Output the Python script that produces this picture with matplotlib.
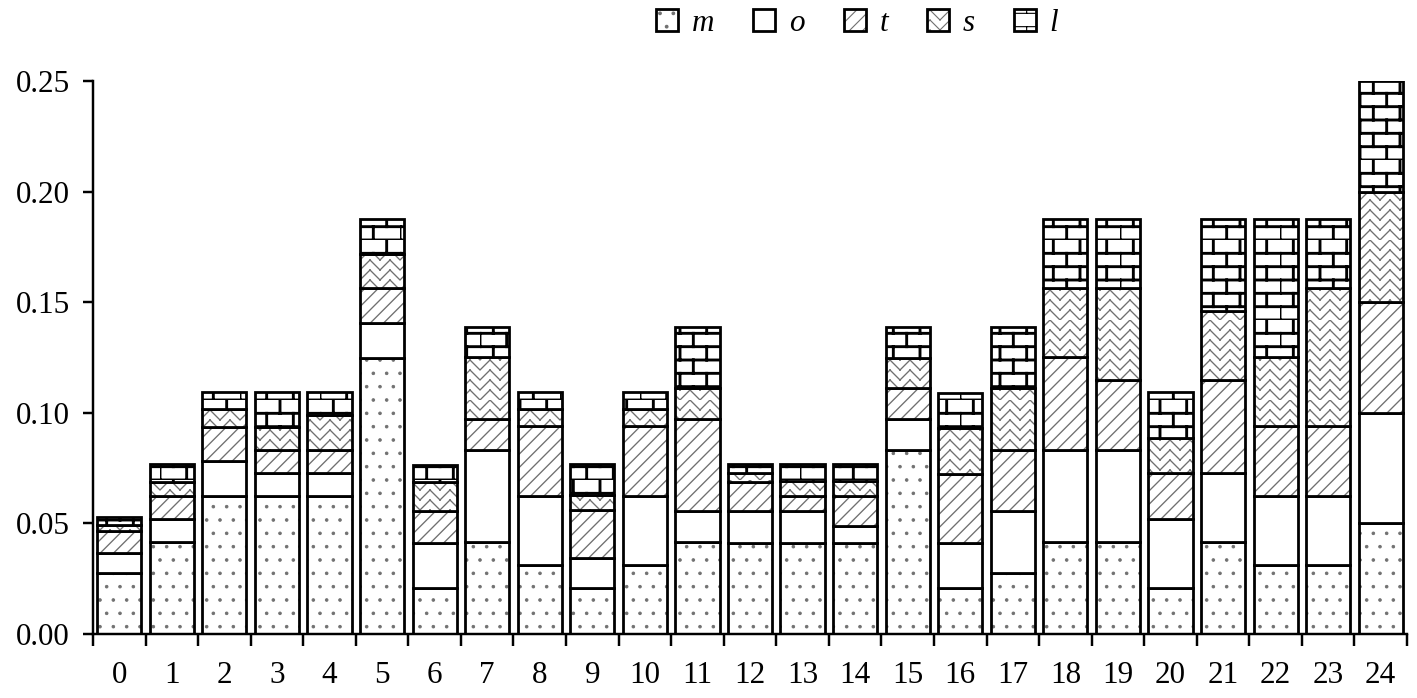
import warnings
import numpy as np
import matplotlib
matplotlib.use("Agg")
import matplotlib.pyplot as plt
from matplotlib import hatch as mhatch
from matplotlib.patches import Patch
from matplotlib.legend_handler import HandlerTuple

warnings.filterwarnings("ignore")

# stacked shares per group
groups = [str(i) for i in range(25)]
m = [0.0278, 0.0417, 0.0625, 0.0625, 0.0625, 0.1250, 0.0208, 0.0417, 0.0313, 0.0208,
     0.0313, 0.0417, 0.0413, 0.0413, 0.0413, 0.0833, 0.0208, 0.0278, 0.0417, 0.0417,
     0.0208, 0.0417, 0.0313, 0.0313, 0.0500]
o = [0.0090, 0.0104, 0.0156, 0.0104, 0.0104, 0.0156, 0.0204, 0.0417, 0.0313, 0.0134,
     0.0313, 0.0139, 0.0143, 0.0143, 0.0075, 0.0139, 0.0204, 0.0278, 0.0417, 0.0417,
     0.0313, 0.0313, 0.0313, 0.0313, 0.0500]
t = [0.0096, 0.0104, 0.0156, 0.0104, 0.0104, 0.0156, 0.0145, 0.0139, 0.0313, 0.0218,
     0.0313, 0.0417, 0.0133, 0.0069, 0.0137, 0.0139, 0.0313, 0.0278, 0.0417, 0.0313,
     0.0208, 0.0417, 0.0313, 0.0313, 0.0500]
s = [0.0030, 0.0064, 0.0078, 0.0104, 0.0156, 0.0156, 0.0130, 0.0278, 0.0078, 0.0068,
     0.0078, 0.0139, 0.0040, 0.0068, 0.0068, 0.0139, 0.0208, 0.0278, 0.0313, 0.0417,
     0.0156, 0.0313, 0.0313, 0.0625, 0.0500]
l = [0.0036, 0.0079, 0.0078, 0.0156, 0.0104, 0.0156, 0.0079, 0.0139, 0.0078, 0.0140,
     0.0078, 0.0278, 0.0040, 0.0075, 0.0075, 0.0139, 0.0156, 0.0278, 0.0313, 0.0313,
     0.0208, 0.0417, 0.0625, 0.0313, 0.0500]
series_names = ["m", "o", "t", "s", "l"]
yticks = [0.00, 0.05, 0.10, 0.15, 0.20, 0.25]


# extra hatch patterns: 'z' herringbone zigzag, 'b' brick wall
# (every stroke its own MOVETO/LINETO pair so agg doesn't fill them)
class ZigZag(mhatch.HatchPatternBase):
    def __init__(self, hatch, density):
        self.rows = hatch.count('z') * density * 4 // 3
        self.zigs = self.rows // 2
        self.num_vertices = self.rows * self.zigs * 4

    def set_vertices_and_codes(self, vertices, codes):
        amp = 1.0 / self.rows
        step = 1.0 / (2 * self.zigs)
        k = 0
        for r in range(self.rows):
            y0 = r / self.rows
            for z in range(self.zigs):
                x0 = 2 * z * step
                vertices[k:k + 4] = [(x0, y0), (x0 + step, y0 + amp),
                                     (x0 + step, y0 + amp), (x0 + 2 * step, y0)]
                codes[k:k + 4] = [mhatch.Path.MOVETO, mhatch.Path.LINETO,
                                  mhatch.Path.MOVETO, mhatch.Path.LINETO]
                k += 4


class Brick(mhatch.HatchPatternBase):
    def __init__(self, hatch, density):
        self.rows = hatch.count('b') * density
        self.cols = 3
        self.num_vertices = self.rows * (2 + 2 * self.cols)

    def set_vertices_and_codes(self, vertices, codes):
        k = 0
        for r in range(self.rows):
            y0 = r / self.rows
            y1 = (r + 1) / self.rows
            vertices[k] = (0, y0); codes[k] = mhatch.Path.MOVETO
            vertices[k + 1] = (1, y0); codes[k + 1] = mhatch.Path.LINETO
            k += 2
            for j in range(self.cols):
                x = (j + 0.5 * (r % 2)) / self.cols
                vertices[k] = (x, y0); codes[k] = mhatch.Path.MOVETO
                vertices[k + 1] = (x, y1); codes[k + 1] = mhatch.Path.LINETO
                k += 2


mhatch._hatch_types.extend([ZigZag, Brick])

DPI = 80
fig = plt.figure(figsize=(1417 / DPI, 698 / DPI), dpi=DPI)
ax = fig.add_axes([93 / 1417, 1 - 634 / 698, 1314 / 1417, 553 / 698])

# hatch, hatch colour, hatch linewidth for m, o, t, s, l
styles = [
    (".", "#707070", 0.8),
    (None, "#707070", 1.0),
    ("//", "#707070", 1.2),
    ("z", "#707070", 1.2),
    ("b", "black", 2.6),
]

x = np.arange(len(groups))
width = 0.84
edge_lw = 2.5
bottom = np.zeros(len(groups))
handles = []
for vals, (h, hc, hlw) in zip([m, o, t, s, l], styles):
    with plt.rc_context({"hatch.linewidth": hlw}):
        bars = ax.bar(x, vals, width, bottom=bottom, color="white",
                      edgecolor=hc, linewidth=0, hatch=h)
        for b in bars:
            if hasattr(b, "set_hatch_linewidth"):
                b.set_hatch_linewidth(hlw)
        ax.bar(x, vals, width, bottom=bottom, fill=False,
               edgecolor="black", linewidth=edge_lw)
        p1 = Patch(facecolor="white", edgecolor=hc, linewidth=0, hatch=h)
        if hasattr(p1, "set_hatch_linewidth"):
            p1.set_hatch_linewidth(hlw)
    p2 = Patch(fill=False, edgecolor="black", linewidth=edge_lw)
    handles.append((p1, p2))
    bottom += np.array(vals)

ax.set_xlim(-0.5, 24.5)
ax.set_ylim(0, 0.25)
ax.set_yticks(yticks)
ax.set_yticklabels([f"{v:.2f}" for v in yticks])
ax.set_xticks(x)
ax.set_xticklabels(groups)
ax.set_xticks(np.arange(-0.5, 25, 1), minor=True)

for sp in ["top", "right"]:
    ax.spines[sp].set_visible(False)
for sp in ["left", "bottom"]:
    ax.spines[sp].set_linewidth(2.2)

ax.tick_params(axis="y", direction="out", length=9, width=2.2, pad=12,
               labelsize=28, labelfontfamily="Liberation Serif")
ax.tick_params(axis="x", which="major", length=0, pad=24,
               labelsize=28, labelfontfamily="Liberation Serif")
ax.tick_params(axis="x", which="minor", direction="out", length=11, width=2.2)

fig.legend(handles, series_names,
           handler_map={tuple: HandlerTuple(ndivide=1, pad=0)},
           loc="center", bbox_to_anchor=(0.605, 0.966), ncol=5, frameon=False,
           prop={"family": "Liberation Serif", "style": "italic", "size": 28},
           handlelength=0.7, handleheight=0.7, handletextpad=0.45,
           columnspacing=1.25)

fig.savefig("out.png", dpi=DPI)
